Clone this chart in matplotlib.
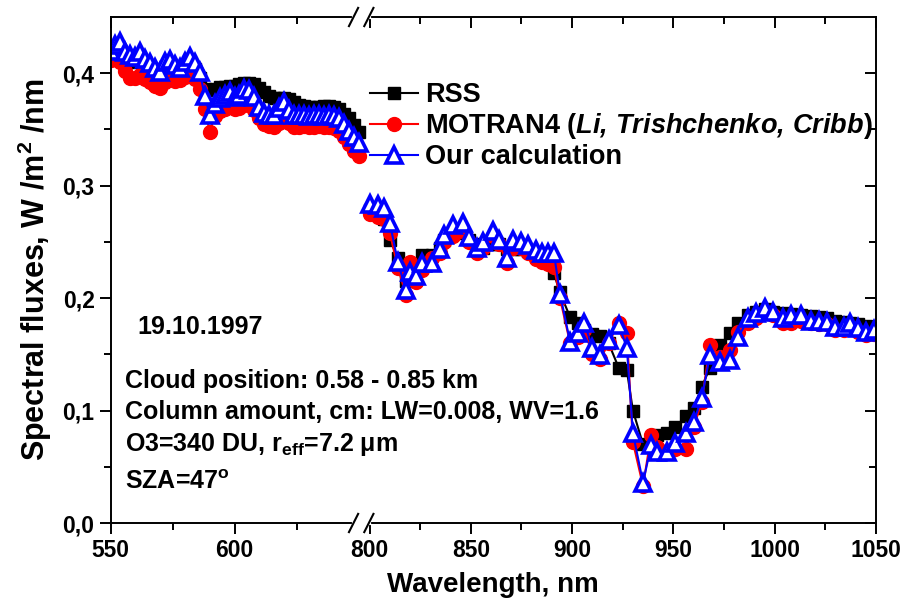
import numpy as np
import matplotlib
matplotlib.use("Agg")
import matplotlib.pyplot as plt
from matplotlib.ticker import FixedLocator, FuncFormatter

plt.rcParams['font.family'] = ['Liberation Sans', 'DejaVu Sans']
plt.rcParams['font.weight'] = 'bold'
plt.rcParams['mathtext.fontset'] = 'custom'
plt.rcParams['mathtext.rm'] = 'Liberation Sans:bold'
plt.rcParams['mathtext.it'] = 'Liberation Sans:italic:bold'
plt.rcParams['mathtext.bf'] = 'Liberation Sans:bold'
plt.rcParams['mathtext.bfit'] = 'Liberation Sans:italic:bold'
plt.rcParams['mathtext.default'] = 'rm'

# ---- data: 550-650 nm part ----
wl_left = [550, 552, 554, 556, 558, 560, 562, 564, 566, 568,
           570, 572, 574, 576, 578, 580, 582, 584, 586, 588,
           590, 592, 594, 596, 598, 600, 602, 604, 606, 608,
           610, 612, 614, 616, 618, 620, 622, 624, 626, 628,
           630, 632, 634, 636, 638, 640, 642, 644, 646, 648,
           650]
rss_left = [0.418, 0.420, 0.421, 0.415, 0.412, 0.410, 0.413, 0.410, 0.405, 0.402,
            0.400, 0.405, 0.406, 0.403, 0.402, 0.405, 0.408, 0.404, 0.396, 0.386,
            0.385, 0.386, 0.388, 0.388, 0.389, 0.389, 0.390, 0.391, 0.391, 0.390,
            0.387, 0.383, 0.380, 0.378, 0.378, 0.378, 0.377, 0.374, 0.372, 0.371,
            0.370, 0.370, 0.370, 0.371, 0.371, 0.370, 0.368, 0.364, 0.360, 0.354,
            0.348]
motran_left = [0.412, 0.413, 0.410, 0.402, 0.396, 0.396, 0.398, 0.395, 0.392, 0.389,
               0.387, 0.392, 0.395, 0.393, 0.394, 0.397, 0.400, 0.395, 0.386, 0.368,
               0.348, 0.362, 0.366, 0.368, 0.371, 0.368, 0.369, 0.372, 0.372, 0.367,
               0.360, 0.355, 0.353, 0.352, 0.356, 0.360, 0.356, 0.352, 0.352, 0.353,
               0.352, 0.352, 0.353, 0.352, 0.352, 0.351, 0.349, 0.343, 0.337, 0.331,
               0.326]
ours_left = [0.420, 0.425, 0.428, 0.419, 0.416, 0.414, 0.419, 0.413, 0.409, 0.405,
             0.401, 0.410, 0.412, 0.407, 0.405, 0.410, 0.414, 0.409, 0.401, 0.380,
             0.363, 0.373, 0.378, 0.381, 0.383, 0.379, 0.381, 0.386, 0.385, 0.379,
             0.370, 0.365, 0.363, 0.363, 0.369, 0.374, 0.367, 0.363, 0.363, 0.363,
             0.362, 0.363, 0.363, 0.362, 0.363, 0.362, 0.360, 0.355, 0.349, 0.343,
             0.338]

# ---- data: 800-1050 nm part ----
wl_right = [800, 804, 807, 810, 814, 818, 820, 823, 826, 831,
            835, 837, 841, 846, 849, 853, 856, 861, 864, 868,
            871, 875, 878, 882, 885, 888, 891, 894, 899, 903,
            906, 910, 914, 918, 923, 927, 930, 935, 939, 942,
            947, 951, 956, 960, 964, 968, 973, 978, 982, 987,
            991, 995, 999, 1004, 1008, 1013, 1018, 1022, 1026, 1030,
            1034, 1037, 1041, 1045, 1049]
rss_right = [0.278, 0.275, 0.270, 0.252, 0.236, 0.215, 0.225, 0.225, 0.238, 0.238,
             0.245, 0.252, 0.258, 0.258, 0.252, 0.248, 0.245, 0.248, 0.248, 0.244,
             0.244, 0.244, 0.242, 0.240, 0.237, 0.232, 0.222, 0.205, 0.183, 0.178,
             0.172, 0.168, 0.166, 0.160, 0.138, 0.136, 0.100, 0.070, 0.075, 0.078,
             0.080, 0.085, 0.095, 0.102, 0.121, 0.138, 0.158, 0.169, 0.178, 0.185,
             0.188, 0.190, 0.188, 0.187, 0.186, 0.185, 0.184, 0.183, 0.182, 0.180,
             0.179, 0.178, 0.177, 0.175, 0.173]
motran_right = [0.275, 0.272, 0.270, 0.258, 0.227, 0.203, 0.232, 0.214, 0.225, 0.236,
                0.240, 0.250, 0.255, 0.260, 0.250, 0.240, 0.245, 0.255, 0.248, 0.231,
                0.245, 0.245, 0.240, 0.235, 0.232, 0.230, 0.228, 0.200, 0.160, 0.165,
                0.172, 0.150, 0.146, 0.160, 0.178, 0.169, 0.072, 0.033, 0.078, 0.068,
                0.064, 0.066, 0.066, 0.085, 0.108, 0.158, 0.148, 0.154, 0.170, 0.178,
                0.182, 0.187, 0.185, 0.178, 0.178, 0.180, 0.178, 0.177, 0.177, 0.172,
                0.172, 0.174, 0.170, 0.167, 0.168]
ours_right = [0.284, 0.283, 0.280, 0.267, 0.232, 0.207, 0.223, 0.220, 0.231, 0.231,
              0.244, 0.256, 0.265, 0.267, 0.254, 0.245, 0.250, 0.260, 0.252, 0.236,
              0.252, 0.250, 0.247, 0.243, 0.240, 0.240, 0.240, 0.204, 0.161, 0.169,
              0.178, 0.156, 0.149, 0.163, 0.176, 0.156, 0.080, 0.036, 0.069, 0.063,
              0.063, 0.071, 0.080, 0.090, 0.111, 0.149, 0.143, 0.145, 0.165, 0.182,
              0.187, 0.191, 0.188, 0.182, 0.185, 0.185, 0.180, 0.180, 0.179, 0.174,
              0.174, 0.178, 0.173, 0.170, 0.172]

# broken x axis: 550-650 stretched, 650-795 squeezed to nothing
brk_in = [550, 650, 794.6, 1050]
brk_out = [0.0, 248.0, 248.1, 765.5]


def fwd(w):
    return np.interp(w, brk_in, brk_out)


def inv(p):
    return np.interp(p, brk_out, brk_in)


fig = plt.figure(figsize=(9.06, 5.99), dpi=100)
ax = fig.add_axes([110.5 / 906, 1 - 523 / 599, 765.5 / 906, 506 / 599])
ax.set_xscale('function', functions=(fwd, inv))

lw = 1.5
sq = dict(color='black', lw=lw, marker='s', ms=8, mec='black', mfc='black')
ci = dict(color='red', lw=lw, marker='o', ms=10, mec='red', mfc='red')
tr = dict(color='blue', lw=lw, marker='^', ms=11.5, mec='blue', mfc='white', mew=2.6)

for wl, s1, s2, s3 in [(wl_left, rss_left, motran_left, ours_left),
                       (wl_right, rss_right, motran_right, ours_right)]:
    ax.plot(wl, s1, **sq)
    ax.plot(wl, s2, **ci)
    ax.plot(wl, s3, **tr)

# legend handles
h1, = ax.plot([], [], **sq)
h2, = ax.plot([], [], **ci)
h3, = ax.plot([], [], **tr)
leg = ax.legend([h1, h2, h3],
                ['RSS', r'MOTRAN4 ($\mathbfit{Li{,}\ Trishchenko{,}\ Cribb}$)', 'Our calculation'],
                loc='upper left', bbox_to_anchor=(0.339, 0.8715), frameon=False,
                fontsize=19.5, handlelength=1.78, handletextpad=0.26, labelspacing=0.11,
                borderpad=0, borderaxespad=0, numpoints=1)

ax.set_xlim(550, 1050)
ax.set_ylim(0, 0.45)

ax.xaxis.set_major_locator(FixedLocator([550, 600, 800, 850, 900, 950, 1000, 1050]))
ax.xaxis.set_minor_locator(FixedLocator([575, 625, 825, 875, 925, 975, 1025]))
ax.xaxis.set_major_formatter(FuncFormatter(lambda v, p: '%d' % round(v)))
ax.yaxis.set_major_locator(FixedLocator([0.0, 0.1, 0.2, 0.3, 0.4]))
ax.yaxis.set_minor_locator(FixedLocator([0.05, 0.15, 0.25, 0.35]))
ax.yaxis.set_major_formatter(FuncFormatter(lambda v, p: ('%.1f' % v).replace('.', ',')))

ax.tick_params(which='both', direction='out', width=1.4, labelsize=16.5)
ax.tick_params(which='major', length=8)
ax.tick_params(which='minor', length=5)
ax.tick_params(which='both', top=True, right=True)
for sp in ax.spines.values():
    sp.set_linewidth(1.4)
# top/right ticks point inwards
for t in ax.xaxis.get_major_ticks() + ax.xaxis.get_minor_ticks():
    t.tick2line.set_marker(3)
for t in ax.yaxis.get_major_ticks() + ax.yaxis.get_minor_ticks():
    t.tick2line.set_marker(0)

ax.set_xlabel('Wavelength, nm', fontsize=20, fontweight='bold', labelpad=7)
ax.set_ylabel('Spectral fluxes, W /m$^2$ /nm', fontsize=22, fontweight='bold', labelpad=6)

# break marks on bottom and top spines
for yb in (0.0, 1.0):
    ax.plot([0.3175, 0.3375], [yb, yb], transform=ax.transAxes, color='white', lw=3,
            clip_on=False, zorder=5)
    for xb in (0.3175, 0.3375):
        ax.plot([xb - 0.006, xb + 0.006], [yb - 0.018, yb + 0.018], transform=ax.transAxes,
                color='black', lw=1.5, clip_on=False, zorder=6)

# annotations
fs = 18
ax.text(0.035, 0.388, '19.10.1997', transform=ax.transAxes, fontsize=fs, va='center')
ax.text(0.019, 0.280, 'Cloud position: 0.58 - 0.85 km', transform=ax.transAxes,
        fontsize=fs, va='center')
ax.text(0.019, 0.219, 'Column amount, cm: LW=0.008, WV=1.6', transform=ax.transAxes,
        fontsize=fs, va='center')
ax.text(0.019, 0.156, r'O3=340 DU, r$_{\rm eff}$=7.2 μm', transform=ax.transAxes,
        fontsize=fs, va='center')
ax.text(0.019, 0.082, r'SZA=47$^{\rm o}$', transform=ax.transAxes, fontsize=fs, va='center')

fig.savefig('out.png', dpi=100)
